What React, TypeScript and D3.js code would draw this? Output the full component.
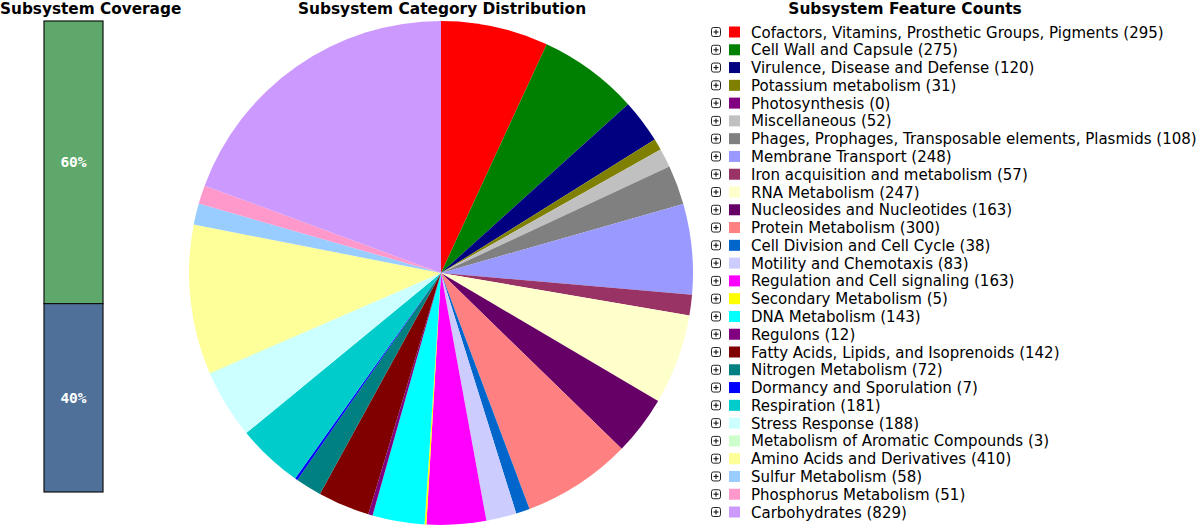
import React from "react";
import * as d3 from "d3";

const categories = [
  "Cofactors, Vitamins, Prosthetic Groups, Pigments",
  "Cell Wall and Capsule",
  "Virulence, Disease and Defense",
  "Potassium metabolism",
  "Photosynthesis",
  "Miscellaneous",
  "Phages, Prophages, Transposable elements, Plasmids",
  "Membrane Transport",
  "Iron acquisition and metabolism",
  "RNA Metabolism",
  "Nucleosides and Nucleotides",
  "Protein Metabolism",
  "Cell Division and Cell Cycle",
  "Motility and Chemotaxis",
  "Regulation and Cell signaling",
  "Secondary Metabolism",
  "DNA Metabolism",
  "Regulons",
  "Fatty Acids, Lipids, and Isoprenoids",
  "Nitrogen Metabolism",
  "Dormancy and Sporulation",
  "Respiration",
  "Stress Response",
  "Metabolism of Aromatic Compounds",
  "Amino Acids and Derivatives",
  "Sulfur Metabolism",
  "Phosphorus Metabolism",
  "Carbohydrates",
];

const counts = [
  295, 275, 120, 31, 0, 52, 108, 248, 57, 247, 163, 300, 38, 83, 163, 5, 143,
  12, 142, 72, 7, 181, 188, 3, 410, 58, 51, 829,
];

const colors = [
  "#FF0000", "#008000", "#000080", "#808000", "#800080", "#C0C0C0", "#808080",
  "#9999FF", "#993366", "#FFFFCC", "#660066", "#FF8080", "#0066CC", "#CCCCFF",
  "#FF00FF", "#FFFF00", "#00FFFF", "#800080", "#800000", "#008080", "#0000FF",
  "#00CCCC", "#CCFFFF", "#CCFFCC", "#FFFF99", "#99CCFF", "#FF99CC", "#CC99FF",
];

const coverageLabels = ["60%", "40%"];
const coverageValues = [60, 40];
const coverageColors = ["#5FA86B", "#4F7099"];

export default function App() {
  const W = 1200;
  const H = 531;
  const cx = 441;
  const cy = 273;
  const r = 252;

  const pie = d3
    .pie<number>()
    .sort(null)
    .value((d) => d)
    .startAngle(0)
    .endAngle(2 * Math.PI);
  const arcs = pie(counts);
  const arc = d3.arc<d3.PieArcDatum<number>>().innerRadius(0).outerRadius(r);

  // coverage bar
  const barX = 44;
  const barW = 59;
  const barTop = 21;
  const barBottom = 492;
  const yScale = d3.scaleLinear().domain([0, 100]).range([barTop, barBottom]);
  let acc = 0;
  const segs = coverageValues.map((v, i) => {
    const s = { y0: yScale(acc), y1: yScale(acc + v), label: coverageLabels[i], color: coverageColors[i] };
    acc += v;
    return s;
  });

  // legend
  const legendY = d3
    .scaleLinear()
    .domain([0, categories.length - 1])
    .range([32, 512]);

  const font = "'DejaVu Sans', Verdana, sans-serif";

  return (
    <svg
      width={W}
      height={H}
      style={{ position: "absolute", left: 0, top: 0, background: "#fff" }}
      fontFamily={font}
    >
      <text x={0} y={14} fontSize={15.3} fontWeight="bold" fill="#000">
        Subsystem Coverage
      </text>
      <text x={442} y={14} fontSize={15.4} fontWeight="bold" textAnchor="middle" fill="#000">
        Subsystem Category Distribution
      </text>
      <text x={905} y={14} fontSize={15.4} fontWeight="bold" textAnchor="middle" fill="#000">
        Subsystem Feature Counts
      </text>

      {segs.map((s, i) => (
        <g key={i}>
          <rect
            x={barX}
            y={s.y0}
            width={barW}
            height={s.y1 - s.y0}
            fill={s.color}
            stroke="#111"
            strokeWidth={1.2}
          />
          <text
            x={barX + barW / 2}
            y={(s.y0 + s.y1) / 2 + 5}
            fontSize={14.5}
            fontWeight="bold"
            fill="#fff"
            textAnchor="middle"
            fontFamily="'DejaVu Sans Mono', monospace"
          >
            {s.label}
          </text>
        </g>
      ))}

      <g transform={`translate(${cx},${cy})`}>
        {arcs.map((a, i) =>
          a.value > 0 ? <path key={i} d={arc(a) || ""} fill={colors[i]} /> : null
        )}
      </g>

      {categories.map((c, i) => {
        const y = legendY(i);
        return (
          <g key={i}>
            <rect
              x={711.5}
              y={y - 4.5}
              width={9}
              height={9}
              rx={2}
              fill="#fff"
              stroke="#222"
              strokeWidth={1}
            />
            <line x1={713.5} x2={718.5} y1={y} y2={y} stroke="#222" strokeWidth={1.2} />
            <line x1={716} x2={716} y1={y - 2.5} y2={y + 2.5} stroke="#222" strokeWidth={1.2} />
            <rect x={729} y={y - 5.5} width={11} height={11} fill={colors[i]} />
            <text x={751} y={y + 5.5} fontSize={15} fill="#000">
              {`${c} (${counts[i]})`}
            </text>
          </g>
        );
      })}
    </svg>
  );
}
